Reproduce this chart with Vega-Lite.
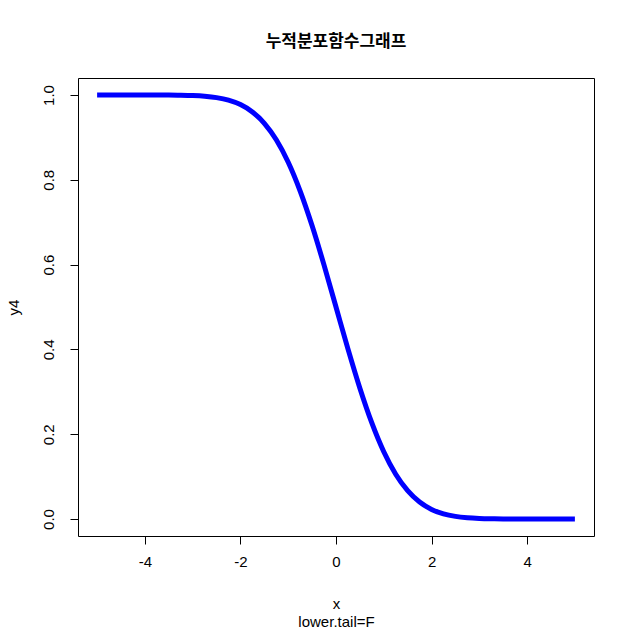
{
  "$schema": "https://vega.github.io/schema/vega-lite/v6.json",
  "autosize": "none",
  "width": 516,
  "height": 458,
  "padding": {"left": 78, "top": 78, "right": 40, "bottom": 97},
  "background": "white",
  "title": {"text": "누적분포함수그래프", "font": "Noto Sans CJK KR", "fontSize": 17, "fontWeight": "bold", "color": "black", "anchor": "middle", "offset": 27},
  "config": {
    "view": {"stroke": "black", "strokeWidth": 1},
    "axis": {"labelFont": "Liberation Sans", "titleFont": "Liberation Sans", "labelFontSize": 15, "titleFontSize": 15, "labelColor": "black", "titleColor": "black", "titleFontWeight": "normal", "tickColor": "black", "tickSize": 8, "domain": false, "grid": false}
  },
  "data": {"values": [
    {"x": -5, "y4": 1.0}, {"x": -4.75, "y4": 1.0}, {"x": -4.5, "y4": 1.0}, {"x": -4.25, "y4": 1.0},
    {"x": -4, "y4": 0.99997}, {"x": -3.75, "y4": 0.99991}, {"x": -3.5, "y4": 0.99977}, {"x": -3.25, "y4": 0.99942},
    {"x": -3, "y4": 0.99865}, {"x": -2.75, "y4": 0.99702}, {"x": -2.5, "y4": 0.99379}, {"x": -2.25, "y4": 0.98778},
    {"x": -2, "y4": 0.97725}, {"x": -1.75, "y4": 0.95994}, {"x": -1.5, "y4": 0.93319}, {"x": -1.25, "y4": 0.89435},
    {"x": -1, "y4": 0.84134}, {"x": -0.75, "y4": 0.77337}, {"x": -0.5, "y4": 0.69146}, {"x": -0.25, "y4": 0.59871},
    {"x": 0, "y4": 0.5}, {"x": 0.25, "y4": 0.40129}, {"x": 0.5, "y4": 0.30854}, {"x": 0.75, "y4": 0.22663},
    {"x": 1, "y4": 0.15866}, {"x": 1.25, "y4": 0.10565}, {"x": 1.5, "y4": 0.06681}, {"x": 1.75, "y4": 0.04006},
    {"x": 2, "y4": 0.02275}, {"x": 2.25, "y4": 0.01222}, {"x": 2.5, "y4": 0.00621}, {"x": 2.75, "y4": 0.00298},
    {"x": 3, "y4": 0.00135}, {"x": 3.25, "y4": 0.00058}, {"x": 3.5, "y4": 0.00023}, {"x": 3.75, "y4": 0.00009},
    {"x": 4, "y4": 0.00003}, {"x": 4.25, "y4": 0.0}, {"x": 4.5, "y4": 0.0}, {"x": 4.75, "y4": 0.0}, {"x": 5, "y4": 0.0}
  ]},
  "mark": {"type": "line", "color": "blue", "strokeWidth": 5, "interpolate": "monotone"},
  "encoding": {
    "x": {"field": "x", "type": "quantitative", "scale": {"domain": [-5.4, 5.4], "nice": false, "zero": false},
      "axis": {"values": [-4, -2, 0, 2, 4], "labelExpr": "datum.value < 0 ? '-' + abs(datum.value) : '' + datum.value", "title": ["x", "lower.tail=F"], "labelPadding": 10, "titlePadding": 27, "titleLineHeight": 18}},
    "y": {"field": "y4", "type": "quantitative", "scale": {"domain": [-0.04, 1.04], "nice": false, "zero": false},
      "axis": {"values": [0, 0.2, 0.4, 0.6, 0.8, 1.0], "format": ".1f", "labelAngle": -90, "labelAlign": "center", "labelBaseline": "bottom", "labelPadding": 14, "title": "y4", "titlePadding": 20}}
  }
}
